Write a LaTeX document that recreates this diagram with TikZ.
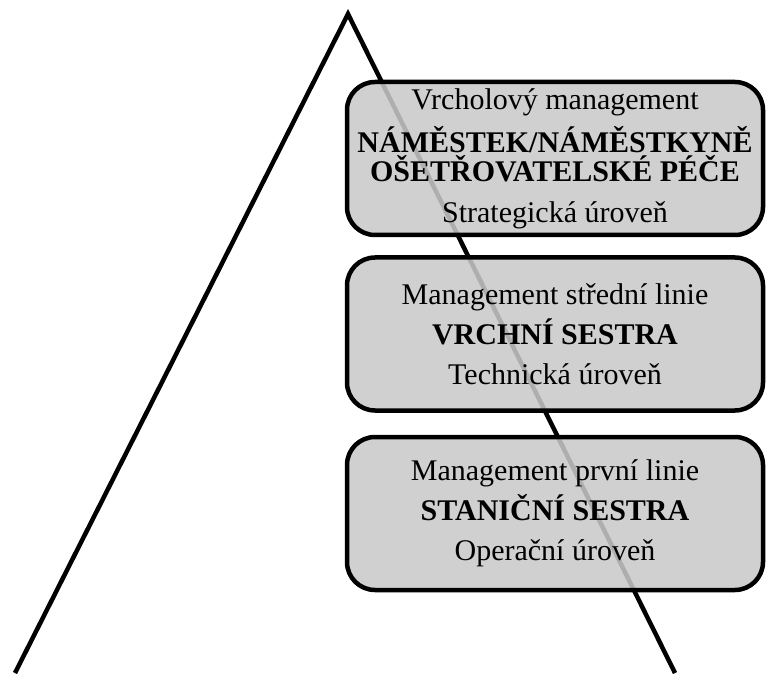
\documentclass[tikz,border=0pt]{standalone}
\usepackage{fontspec}
\setmainfont{Liberation Serif}
\usetikzlibrary{positioning}

\begin{document}
\begin{tikzpicture}[x=1pt,y=1pt,
  levelbox/.style={draw, line width=4.5pt, rounded corners=28pt, fill=black!21, fill opacity=0.87, text opacity=1,
    minimum width=416pt, minimum height=153pt, inner sep=0pt, align=center, font=\fontsize{30}{40}\selectfont}]
\useasboundingbox (0,0) rectangle (768,673);
\coordinate (apex) at (348,659);
\coordinate (baseL) at (15,0);
\coordinate (baseR) at (675,0);
\draw[line width=4.5pt] (baseL) -- (apex) -- (baseR);
\node[levelbox] (top) at (555,514.5) {Vrcholový management\\[3pt] \textbf{NÁMĚSTEK/NÁMĚSTKYNĚ}\\[-11pt] \textbf{OŠETŘOVATELSKÉ PÉČE}\\[1pt] Strategická úroveň};
\node[levelbox, below=18pt of top] (middle) {Management střední linie\\ \textbf{VRCHNÍ SESTRA}\\ Technická úroveň};
\node[levelbox, below=22pt of middle] (first) {Management první linie\\ \textbf{STANIČNÍ SESTRA}\\ Operační úroveň};
\end{tikzpicture}
\end{document}
